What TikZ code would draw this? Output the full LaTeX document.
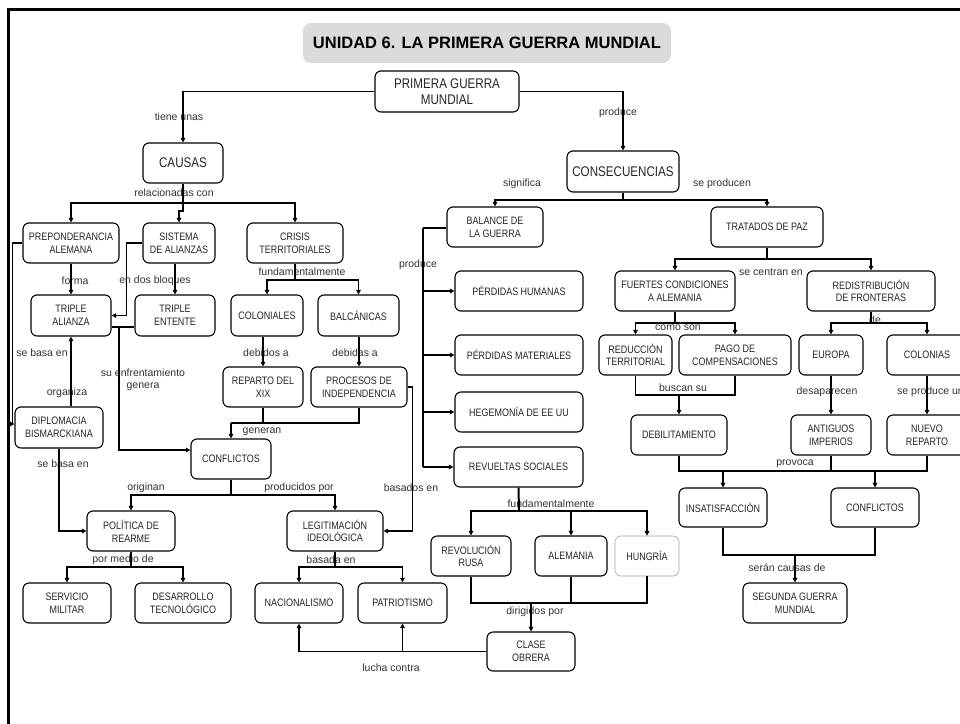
\documentclass[tikz,border=0pt]{standalone}
\usepackage{fontspec}
\setmainfont{Liberation Sans}
\newfontfamily\nfont{Liberation Sans}[FakeStretch=0.83]
\usetikzlibrary{arrows.meta}
\tikzset{
  sz/.style n args={2}{minimum width=#1pt,minimum height=#2pt},
  box/.style={draw=black, line width=1.1pt, rounded corners=6pt, align=center, inner sep=0pt,
    font=\nfont\fontsize{10.8}{12.7}\selectfont, text=black!85},
  big/.style={box, font=\nfont\fontsize{14}{15.5}\selectfont},
  lbl/.style={font=\fontsize{10.5}{12}\selectfont, text=black!80, inner sep=0pt, align=center},
  con/.style={line width=1.2pt, draw=black},
  heavy/.style={line width=2pt, draw=black},
  arr/.style={con, -{Triangle[length=4.5pt,width=4.5pt]}},
  harr/.style={heavy, -{Triangle[length=4.5pt,width=4.5pt]}},
}
\begin{document}
\begin{tikzpicture}[x=1pt,y=-1pt]
\useasboundingbox (0,0) rectangle (960,723);
\clip (0,0) rectangle (960,723);
\fill[white] (0,0) rectangle (960,723);
% frame
\draw[line width=3pt] (8.5,760) -- (8.5,9.5) -- (990,9.5);

% title
\node[fill=gray!28, rounded corners=8pt, sz={368}{40}, inner sep=0pt,
  font=\fontsize{16.5}{18}\selectfont\bfseries] (title) at (487,43) {UNIDAD 6. LA PRIMERA GUERRA MUNDIAL};

% nodes
\node[big, sz={144}{41}] (primera) at (447,91.5) {PRIMERA GUERRA\\MUNDIAL};
\node[big, sz={80}{40}] (causas) at (183,163) {CAUSAS};
\node[big, sz={112}{41}] (consec) at (623,171.5) {CONSECUENCIAS};

\node[box, sz={96}{40}] (prep) at (71,243) {PREPONDERANCIA\\ALEMANA};
\node[box, sz={72}{40}] (sistema) at (179,243) {SISTEMA\\DE ALIANZAS};
\node[box, sz={96}{40}] (crisis) at (295,243) {CRISIS\\TERRITORIALES};
\node[box, sz={80}{41}] (tripleA) at (71,315.5) {TRIPLE\\ALIANZA};
\node[box, sz={80}{41}] (tripleE) at (175,315.5) {TRIPLE\\ENTENTE};
\node[box, sz={72}{41}] (colon) at (267,315.5) {COLONIALES};
\node[box, sz={81}{41}] (balc) at (358.5,315.5) {BALCÁNICAS};
\node[box, sz={80}{40}] (reparto) at (263,387) {REPARTO DEL\\XIX};
\node[box, sz={96}{40}] (procesos) at (359,387) {PROCESOS DE\\INDEPENDENCIA};
\node[box, sz={88}{41}] (diplo) at (59,427.5) {DIPLOMACIA\\BISMARCKIANA};
\node[box, sz={80}{40}] (conflL) at (231,459) {CONFLICTOS};
\node[box, sz={88}{40}] (politica) at (131,531) {POLÍTICA DE\\REARME};
\node[box, sz={96}{40}] (legit) at (335,531) {LEGITIMACIÓN\\IDEOLÓGICA};
\node[box, sz={88}{40}] (servicio) at (67,603) {SERVICIO\\MILITAR};
\node[box, sz={96}{40}] (desarrollo) at (183,603) {DESARROLLO\\TECNOLÓGICO};
\node[box, sz={88}{40}] (nacion) at (299,603) {NACIONALISMO};
\node[box, sz={89}{40}] (patrio) at (402.5,603) {PATRIOTISMO};

\node[box, sz={96}{40}] (balance) at (495,227) {BALANCE DE\\LA GUERRA};
\node[box, sz={112}{40}] (tratados) at (767,227) {TRATADOS DE PAZ};
\node[box, sz={128}{40}] (perdH) at (519,291) {PÉRDIDAS HUMANAS};
\node[box, sz={128}{40}] (perdM) at (519,355) {PÉRDIDAS MATERIALES};
\node[box, sz={128}{40}] (hegem) at (519,412) {HEGEMONÍA DE EE UU};
\node[box, sz={129}{40}] (revuel) at (518.5,467) {REVUELTAS SOCIALES};
\node[box, sz={120}{40}] (fuertes) at (675,291) {FUERTES CONDICIONES\\A ALEMANIA};
\node[box, sz={128}{40}] (redis) at (871,291) {REDISTRIBUCIÓN\\DE FRONTERAS};
\node[box, sz={73}{40}] (reduc) at (635.5,355) {REDUCCIÓN\\TERRITORIAL};
\node[box, sz={112}{40}] (pago) at (735,355) {PAGO DE\\COMPENSACIONES};
\node[box, sz={64}{40}] (europa) at (831,355) {EUROPA};
\node[box, sz={80}{40}] (colonias) at (927,355) {COLONIAS};
\node[box, sz={96}{40}] (debil) at (679,435) {DEBILITAMIENTO};
\node[box, sz={80}{40}] (antiguos) at (831,435) {ANTIGUOS\\IMPERIOS};
\node[box, sz={80}{40}] (nuevo) at (927,435) {NUEVO\\REPARTO};
\node[box, sz={88}{39}] (insat) at (723,507.5) {INSATISFACCIÓN};
\node[box, sz={88}{39}] (conflR) at (875,507.5) {CONFLICTOS};
\node[box, sz={104}{40}] (segunda) at (795,603) {SEGUNDA GUERRA\\MUNDIAL};
\node[box, sz={80}{40}] (rusa) at (471,556) {REVOLUCIÓN\\RUSA};
\node[box, sz={72}{40}] (alemania) at (571,556) {ALEMANIA};
\node[box, sz={64}{40}, draw=black!35, line width=0.6pt] (hungria) at (647,556) {HUNGRÍA};
\node[box, sz={88}{39}] (clase) at (531,651.5) {CLASE\\OBRERA};

% labels
\node[lbl] (l1) at (179,117) {tiene unas};
\node[lbl] (l2) at (618,113) {produce};
\node[lbl] (l3) at (174,193) {relacionadas con};
\node[lbl] (l4) at (75,281) {forma};
\node[lbl] (l5) at (155,281) {en dos bloques};
\node[lbl] (l6) at (42,353) {se basa en};
\node[lbl] (l7) at (67,393) {organiza};
\node[lbl] (l8) at (143,380) {su enfrentamiento\\genera};
\node[lbl] (l9) at (302,272) {fundamentalmente};
\node[lbl] (l10) at (266,353) {debidos a};
\node[lbl] (l11) at (355,353) {debidas a};
\node[lbl] (l12) at (262,432) {generan};
\node[lbl] (l13) at (411,488) {basados en};
\node[lbl] (l14) at (63,464) {se basa en};
\node[lbl] (l15) at (146,488) {originan};
\node[lbl] (l16) at (299,488) {producidos por};
\node[lbl] (l17) at (123,560) {por medio de};
\node[lbl] (l18) at (331,560) {basada en};
\node[lbl] (l19) at (391,668) {lucha contra};
\node[lbl] (l20) at (522,184) {significa};
\node[lbl] (l21) at (722,184) {se producen};
\node[lbl] (l22) at (418,265) {produce};
\node[lbl] (l23) at (771,272) {se centran en};
\node[lbl] (l24) at (678,328) {como son};
\node[lbl] (l25) at (683,388) {buscan su};
\node[lbl] (l26) at (875,320) {de};
\node[lbl] (l27) at (827,392) {desaparecen};
\node[lbl, anchor=west] (l28) at (897,392) {se produce un};
\node[lbl] (l29) at (795,464) {provoca};
\node[lbl] (l30) at (787,568) {serán causas de};
\node[lbl] (l31) at (551,504) {fundamentalmente};
\node[lbl] (l32) at (535,612) {dirigidos por};

% connectors
\draw[arr] (primera.west) -| (causas.north);
\draw[arr] (primera.east) -| (consec.north);

\coordinate (cj) at (183,203);
\draw[con] (causas.south) -- (cj);
\draw[arr] (cj) -| (prep.north);
\draw[arr] (cj) -| (crisis.north);
\draw[arr] (cj) -- ++(0,8) -- ++(-4,0) -- (sistema.north);

\draw[arr] (prep.south) -- (tripleA.north);
\draw[arr] (tripleE.north |- sistema.south) -- (tripleE.north);
\draw[arr] (sistema.west) -- ++(-16,0) |- (tripleA.east);
\draw[arr] (prep.west) -- ++(-10,0) |- ([yshift=3.5pt]diplo.west);
\draw[arr] (tripleA.south |- diplo.north) -- (tripleA.south);

\coordinate (tj) at (119,327);
\draw[con] (tripleA.east |- tj) -- (tripleE.west |- tj);
\draw[arr] (tj) |- ([yshift=9pt]conflL.west);

\coordinate (cr) at (295,280);
\draw[con] (crisis.south) -- (cr);
\draw[arr] (cr) -| (colon.north);
\draw[arr] (cr) -| (balc.north);
\draw[arr] (reparto.north |- colon.south) -- (reparto.north);
\draw[arr] (procesos.north |- balc.south) -- (procesos.north);

\coordinate (gj) at (231,423);
\draw[con] (reparto.south) |- (gj);
\draw[con] (procesos.south) |- (gj);
\draw[arr] (gj) -- (conflL.north);

\draw[arr] (procesos.east) -- ++(5,0) |- (legit.east);
\draw[arr] (diplo.south) |- (politica.west);

\coordinate (oj) at (231,495);
\draw[con] (conflL.south) -- (oj);
\draw[arr] (oj) -| (politica.north);
\draw[arr] (oj) -| (legit.north);

\coordinate (pj) at (131,567);
\draw[con] (politica.south) -- (pj);
\draw[arr] (pj) -| (servicio.north);
\draw[arr] (pj) -| (desarrollo.north);

\coordinate (bj) at (335,567);
\draw[con] (legit.south) -- (bj);
\draw[arr] (bj) -| (nacion.north);
\draw[arr] (bj) -| (patrio.north);

\draw[arr] (clase.west) -| (nacion.south);
\draw[arr] (clase.west) -| (patrio.south);

% right side
\coordinate (sj) at (623,200);
\draw[con] (consec.south) -- (sj);
\draw[arr] (sj) -| (balance.north);
\draw[arr] (sj) -| (tratados.north);

\coordinate (bv) at (423,228);
\draw[con] (balance.west |- bv) -- (bv);
\draw[heavy] (bv) -- (bv |- revuel.west);
\draw[arr] (bv |- perdH.west) -- (perdH.west);
\draw[arr] (bv |- perdM.west) -- (perdM.west);
\draw[arr] (bv |- hegem.west) -- (hegem.west);
\draw[arr] (bv |- revuel.west) -- (revuel.west);

\coordinate (tj2) at (767,259);
\draw[con] (tratados.south) -- (tj2);
\draw[arr] (tj2) -| (fuertes.north);
\draw[arr] (tj2) -| (redis.north);

\coordinate (fj) at (675,323);
\draw[con] (fuertes.south) -- (fj);
\draw[arr] (fj) -| (reduc.north);
\draw[arr] (fj) -| (pago.north);

\coordinate (dj) at (679,395);
\draw[con] (reduc.south) |- (dj);
\draw[con] (pago.south) |- (dj);
\draw[harr] (dj) -- (debil.north);

\coordinate (rj) at (871,323);
\draw[con] (redis.south) -- (rj);
\draw[arr] (rj) -| (europa.north);
\draw[arr] (rj) -| (colonias.north);

\draw[arr] (europa.south) -- (antiguos.north);
\draw[arr] (colonias.south) -- (nuevo.north);

\coordinate (vj) at (831,471);
\draw[con] (debil.south) |- (vj);
\draw[con] (antiguos.south) -- (vj);
\draw[con] (nuevo.south) |- (vj);
\draw[arr] (insat.north |- vj) -- (insat.north);
\draw[arr] (conflR.north |- vj) -- (conflR.north);

\coordinate (ij) at (795,555);
\draw[con] (insat.south) |- (ij);
\draw[con] (conflR.south) |- (ij);
\draw[harr] (ij) -- (segunda.north);

\coordinate (rv) at (519,511);
\draw[heavy] (revuel.south) -- (rv);
\draw[arr] (rv) -| (rusa.north);
\draw[arr] (rv) -| (hungria.north);
\draw[arr] (alemania.north |- rv) -- (alemania.north);

\coordinate (cj2) at (531,603);
\draw[con] (rusa.south) |- (cj2);
\draw[con] (hungria.south) |- (cj2);
\draw[con] (alemania.south) -- (alemania.south |- cj2);
\draw[harr] (cj2) -- (clase.north);
\end{tikzpicture}
\end{document}
